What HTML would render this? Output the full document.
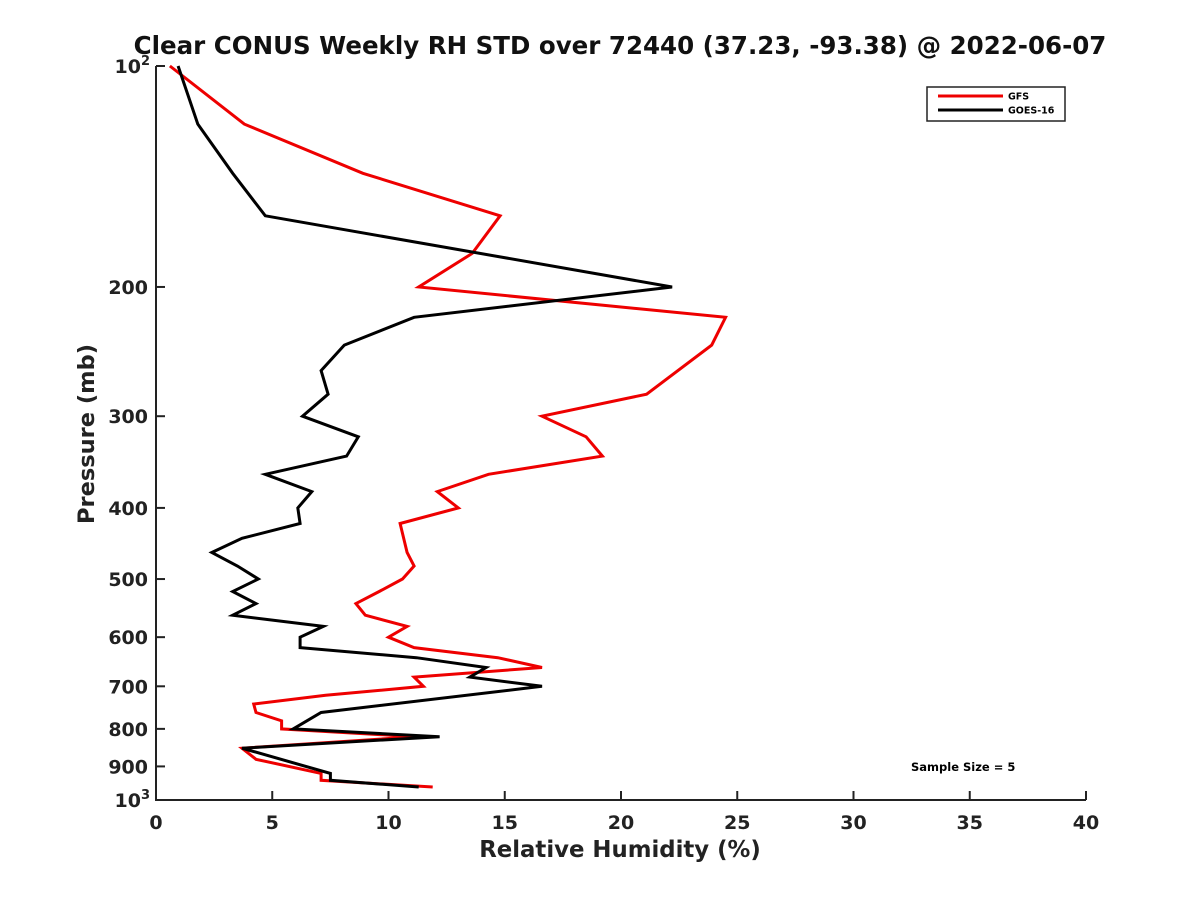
<!DOCTYPE html>
<html><head><meta charset="utf-8"><style>
html,body{margin:0;padding:0;background:#fff;}
svg{display:block;font-family:"DejaVu Sans","Liberation Sans",sans-serif;}
</style></head><body>
<svg id="chart" width="1200" height="900" xmlns="http://www.w3.org/2000/svg">
<rect width="1200" height="900" fill="#fff"/>
<text x="620" y="54" text-anchor="middle" font-size="24.5" font-weight="bold" fill="#111">Clear CONUS Weekly RH STD over 72440 (37.23, -93.38) @ 2022-06-07</text>
<g id="axes"></g>
<g id="series"></g>
<g>
<rect x="927" y="87" width="138" height="34" fill="#fff" stroke="#222" stroke-width="1.5"/>
<line x1="938" y1="96" x2="1003" y2="96" stroke="#e00" stroke-width="3"/>
<text x="1008" y="99.5" font-size="9.5" font-weight="bold">GFS</text>
<line x1="938" y1="110" x2="1003" y2="110" stroke="#000" stroke-width="3"/>
<text x="1008" y="113.5" font-size="9.5" font-weight="bold">GOES-16</text>
</g>
<text x="911" y="771" font-size="11.5" font-weight="bold">Sample Size = 5</text>
<text x="620" y="857" text-anchor="middle" font-size="22.8" font-weight="bold" fill="#222">Relative Humidity (%)</text>
<text transform="translate(94,434) rotate(-90)" text-anchor="middle" font-size="22.5" font-weight="bold" fill="#222">Pressure (mb)</text>
</svg>
<script>
const xTicks = [0,5,10,15,20,25,30,35,40];
const yTicks = [100,200,300,400,500,600,700,800,900,1000];
const gfsP = [100,120,140,160,180,200,220,240,280,300,320,340,360,380,400,420,460,480,500,520,540,560,580,600,620,640,660,680,700,720,740,760,780,800,820,850,880,920,940,960];
const gfsRH = [0.6,3.8,8.9,14.8,13.6,11.3,24.5,23.9,21.1,16.6,18.5,19.2,14.3,12.1,13.0,10.5,10.8,11.1,10.6,9.6,8.6,9.0,10.8,10.0,11.1,14.7,16.6,11.1,11.5,7.3,4.2,4.3,5.4,5.4,11.2,3.7,4.3,7.1,7.1,11.9];
const goesP = [100,120,140,160,200,220,240,260,280,300,320,340,360,380,400,420,440,460,480,500,520,540,560,580,600,620,640,660,680,700,760,800,820,850,920,940,960];
const goesRH = [0.95,1.8,3.3,4.7,22.2,11.1,8.1,7.1,7.4,6.3,8.7,8.2,4.7,6.7,6.1,6.2,3.7,2.4,3.5,4.4,3.3,4.3,3.3,7.2,6.2,6.2,11.2,14.2,13.5,16.6,7.1,5.9,12.2,3.7,7.5,7.5,11.3];

const L=156,R=1086,T=66,B=800;
const xs = v => L + (v-0)/(40-0)*(R-L);
const ys = p => T + (Math.log10(p)-2)*(B-T);
const NS="http://www.w3.org/2000/svg";
function mk(tag, attrs, parent){const e=document.createElementNS(NS,tag);for(const k in attrs)e.setAttribute(k,attrs[k]);parent.appendChild(e);return e;}
const ax=document.getElementById('axes');
const yAxis=mk('line',{x1:L,y1:T,x2:L,y2:B,stroke:'#222','stroke-width':2},ax);


const xAxis=mk('line',{x1:L-1,y1:B,x2:R,y2:B,stroke:'#222','stroke-width':2},ax);


xTicks.forEach(v=>{
  const x=xs(v);
  const t=mk('line',{x1:x,y1:B,x2:x,y2:B-9,stroke:'#222','stroke-width':2},ax);
  
  
  const lb=mk('text',{x:x,y:B+29,'text-anchor':'middle','font-size':19,'font-weight':'bold',fill:'#222'},ax);
  lb.textContent=String(v);
  
  
});
yTicks.forEach(p=>{
  const y=ys(p);
  const t=mk('line',{x1:L,y1:y,x2:L+9,y2:y,stroke:'#222','stroke-width':2},ax);
  
  
  const lb=mk('text',{x:L-8,y:y+7,'text-anchor':'end','font-size':19,'font-weight':'bold',fill:'#222'},ax);
  if(p===100||p===1000){
    lb.textContent='10';
    const s=mk('tspan',{dy:-8,'font-size':13},lb);
    s.textContent=p===100?'2':'3';
    lb.setAttribute('x',L-6);
  } else lb.textContent=String(p);
  
  
});
const sg=document.getElementById('series');
function draw(P,V,color,name){
  const pts=P.map((p,i)=>xs(V[i]).toFixed(1)+','+ys(p).toFixed(1)).join(' ');
  const pl=mk('polyline',{points:pts,fill:'none',stroke:color,'stroke-width':3,'stroke-linejoin':'miter'},sg);
  
  
}
draw(gfsP,gfsRH,'#e00','gfs-line');
draw(goesP,goesRH,'#000','goes16-line');
</script>
</body></html>
